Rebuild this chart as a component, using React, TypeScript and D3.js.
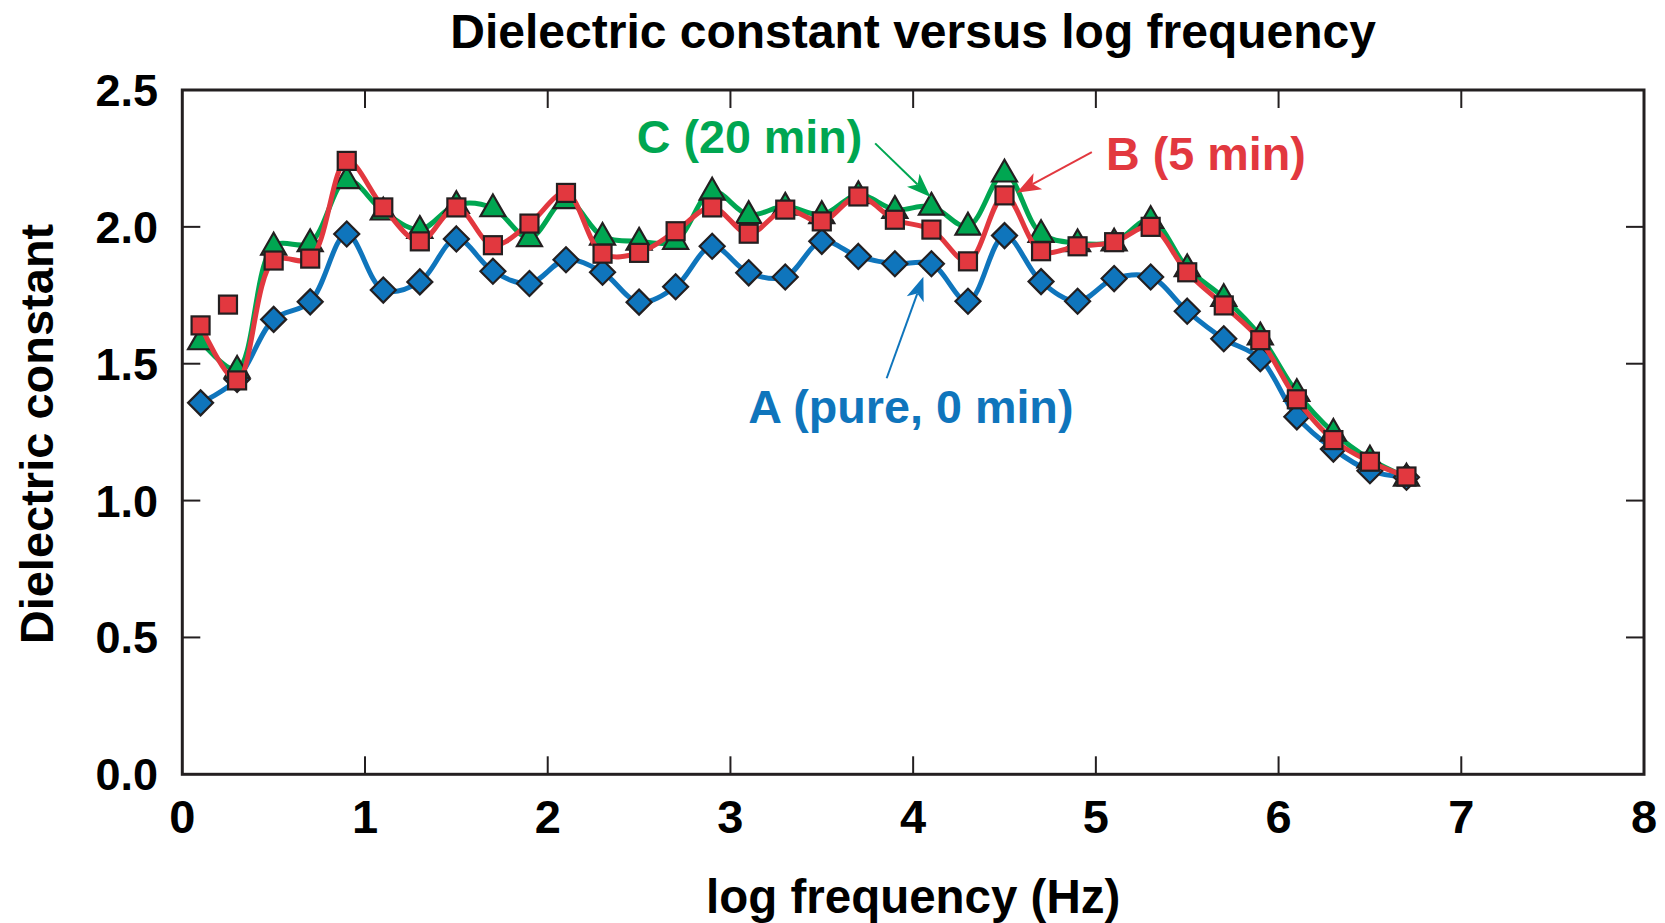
import React from "react";
import * as d3 from "d3";

const TITLE = "Dielectric constant versus log frequency";
const X_LABEL = "log frequency (Hz)";
const Y_LABEL = "Dielectric constant";

const xTicks = [0, 1, 2, 3, 4, 5, 6, 7, 8];
const yTicks = [0, 0.5, 1.0, 1.5, 2.0, 2.5];

const logFreq = [0.1, 0.3, 0.5, 0.7, 0.9, 1.1, 1.3, 1.5, 1.7, 1.9, 2.1, 2.3, 2.5, 2.7, 2.9, 3.1, 3.3, 3.5, 3.7, 3.9, 4.1, 4.3, 4.5, 4.7, 4.9, 5.1, 5.3, 5.5, 5.7, 5.9, 6.1, 6.3, 6.5, 6.7];

const seriesA = [1.357, 1.443, 1.662, 1.726, 1.974, 1.769, 1.799, 1.956, 1.838, 1.793, 1.880, 1.834, 1.725, 1.781, 1.929, 1.832, 1.817, 1.947, 1.892, 1.865, 1.865, 1.728, 1.968, 1.800, 1.728, 1.811, 1.817, 1.692, 1.591, 1.518, 1.306, 1.188, 1.109, 1.085];
const seriesB = [1.640, 1.439, 1.877, 1.884, 2.241, 2.071, 1.947, 2.071, 1.933, 2.012, 2.124, 1.902, 1.905, 1.984, 2.071, 1.975, 2.063, 2.020, 2.111, 2.026, 1.990, 1.874, 2.115, 1.911, 1.929, 1.944, 2.000, 1.834, 1.713, 1.586, 1.370, 1.221, 1.142, 1.088];
const seriesC = [1.583, 1.479, 1.929, 1.941, 2.172, 2.057, 1.990, 2.081, 2.069, 1.960, 2.099, 1.965, 1.947, 1.950, 2.130, 2.044, 2.075, 2.044, 2.117, 2.063, 2.075, 2.002, 2.196, 1.975, 1.941, 1.944, 2.026, 1.850, 1.741, 1.601, 1.394, 1.249, 1.151, 1.085];
const outlierB = [{ x: 0.25, y: 1.716 }];

const labels = [
  { text: "C (20 min)", x: 2.487, y: 2.269, color: "#00a651" },
  { text: "B (5 min)", x: 5.056, y: 2.208, color: "#e2383f" },
  { text: "A (pure, 0 min)", x: 3.098, y: 1.282, color: "#0f75bc" },
];
const arrows = [
  { x1: 3.792, y1: 2.305, x2: 4.095, y2: 2.109, color: "#00a651" },
  { x1: 4.978, y1: 2.273, x2: 4.567, y2: 2.125, color: "#e2383f" },
  { x1: 3.855, y1: 1.447, x2: 4.056, y2: 1.818, color: "#0f75bc" },
];

const BLUE = "#0f75bc";
const RED = "#e2383f";
const GREEN = "#00a651";
const EDGE = "#231f20";
const FONT = "'Liberation Sans', Arial, Helvetica, sans-serif";

const W = 1665;
const H = 923;
const left = 182.3, right = 1644, top = 90, bottom = 774.3;

export default function App() {
  const x = d3.scaleLinear().domain([0, 8]).range([left, right]);
  const y = d3.scaleLinear().domain([0, 2.5]).range([bottom, top]);

  const line = d3
    .line<[number, number]>()
    .x((d) => x(d[0]))
    .y((d) => y(d[1]))
    .curve(d3.curveCatmullRom.alpha(0.5));

  const pts = (vals: number[]) => logFreq.map((f, i) => [f, vals[i]] as [number, number]);
  const A = pts(seriesA);
  const B = pts(seriesB);
  const C = pts(seriesC);

  const tickLen = 18;

  const diamond = (cx: number, cy: number, r: number) =>
    `M${cx},${cy - r}L${cx + r},${cy}L${cx},${cy + r}L${cx - r},${cy}Z`;
  const triangle = (cx: number, cy: number, s: number) => {
    const h = s * 0.87;
    return `M${cx},${cy - h * 0.62}L${cx + s / 2},${cy + h * 0.38}L${cx - s / 2},${cy + h * 0.38}Z`;
  };

  const arrowShape = (a: typeof arrows[0]) => {
    const X1 = x(a.x1), Y1 = y(a.y1), X2 = x(a.x2), Y2 = y(a.y2);
    const dx = X2 - X1, dy = Y2 - Y1;
    const len = Math.hypot(dx, dy);
    const ux = dx / len, uy = dy / len;
    const px = -uy, py = ux;
    const hl = 24, hw = 9, notch = 6;
    const bx = X2 - ux * hl, by = Y2 - uy * hl;
    const nx = X2 - ux * (hl - notch), ny = Y2 - uy * (hl - notch);
    const head = `M${X2},${Y2}L${bx + px * hw},${by + py * hw}L${nx},${ny}L${bx - px * hw},${by - py * hw}Z`;
    return { X1, Y1, nx, ny, head };
  };

  return (
    <svg
      width={W}
      height={H}
      viewBox={`0 0 ${W} ${H}`}
      style={{ position: "absolute", left: 0, top: 0, background: "#fff" }}
      fontFamily={FONT}
    >
      <rect x={0} y={0} width={W} height={H} fill="#fff" />
      {/* title */}
      <text x={(left + right) / 2} y={48} textAnchor="middle" fontSize={48} fontWeight="bold" fill="#000">
        {TITLE}
      </text>

      {/* ticks */}
      <g stroke={EDGE} strokeWidth={2}>
        {xTicks.slice(1, -1).map((t) => (
          <g key={"xt" + t}>
            <line x1={x(t)} x2={x(t)} y1={bottom} y2={bottom - tickLen} />
            <line x1={x(t)} x2={x(t)} y1={top} y2={top + tickLen} />
          </g>
        ))}
        {yTicks.slice(1, -1).map((t) => (
          <g key={"yt" + t}>
            <line x1={left} x2={left + tickLen} y1={y(t)} y2={y(t)} />
            <line x1={right} x2={right - tickLen} y1={y(t)} y2={y(t)} />
          </g>
        ))}
      </g>
      <rect x={left} y={top} width={right - left} height={bottom - top} fill="none" stroke={EDGE} strokeWidth={3} />

      {/* tick labels */}
      {xTicks.map((t) => (
        <text key={"xl" + t} x={x(t)} y={bottom + 59} textAnchor="middle" fontSize={47} fontWeight="bold" fill="#000">
          {t}
        </text>
      ))}
      {yTicks.map((t) => (
        <text key={"yl" + t} x={158} y={y(t) + 16} textAnchor="end" fontSize={45} fontWeight="bold" fill="#000">
          {t.toFixed(1)}
        </text>
      ))}

      {/* axis labels */}
      <text x={(left + right) / 2} y={913} textAnchor="middle" fontSize={47.5} fontWeight="bold" fill="#000">
        {X_LABEL}
      </text>
      <text
        transform={`translate(53, ${434}) rotate(-90)`}
        textAnchor="middle"
        fontSize={47}
        fontWeight="bold"
        fill="#000"
      >
        {Y_LABEL}
      </text>

      {/* series A */}
      <path d={line(A) || ""} fill="none" stroke={BLUE} strokeWidth={5} />
      {A.map((d, i) => (
        <path key={"a" + i} d={diamond(x(d[0]), y(d[1]), 12.5)} fill={BLUE} stroke={EDGE} strokeWidth={2.2} />
      ))}

      {/* series C */}
      <path d={line(C) || ""} fill="none" stroke={GREEN} strokeWidth={5} />
      {C.map((d, i) => (
        <path key={"c" + i} d={triangle(x(d[0]), y(d[1]), 25)} fill={GREEN} stroke={EDGE} strokeWidth={2.2} />
      ))}

      {/* series B */}
      <path d={line(B) || ""} fill="none" stroke={RED} strokeWidth={5} />
      {B.concat(outlierB.map((o) => [o.x, o.y] as [number, number])).map((d, i) => (
        <rect
          key={"b" + i}
          x={x(d[0]) - 9}
          y={y(d[1]) - 9}
          width={18}
          height={18}
          fill={RED}
          stroke={EDGE}
          strokeWidth={2.2}
        />
      ))}

      {/* annotations */}
      {arrows.map((a, i) => {
        const s = arrowShape(a);
        return (
          <g key={"ar" + i}>
            <line x1={s.X1} y1={s.Y1} x2={s.nx} y2={s.ny} stroke={a.color} strokeWidth={2} />
            <path d={s.head} fill={a.color} />
          </g>
        );
      })}
      {labels.map((l, i) => (
        <text key={"lb" + i} x={x(l.x)} y={y(l.y)} fontSize={46.7} fontWeight="bold" fill={l.color}>
          {l.text}
        </text>
      ))}
    </svg>
  );
}
